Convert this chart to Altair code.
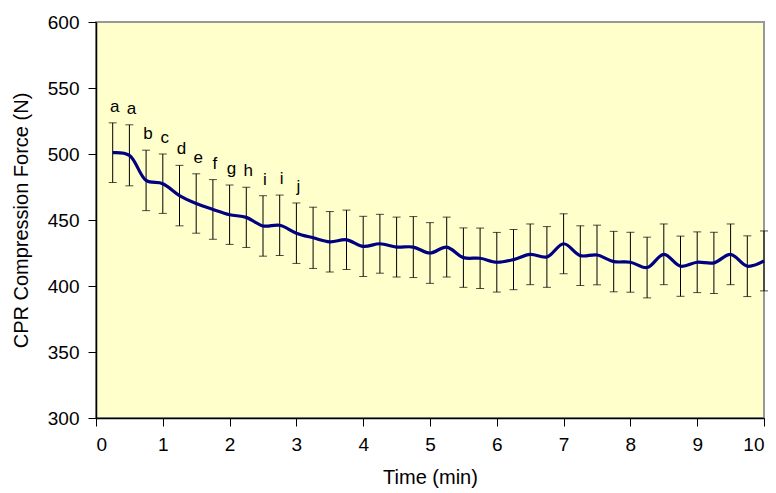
import altair as alt
import pandas as pd

times = [0.25, 0.5, 0.75, 1.0, 1.25, 1.5, 1.75, 2.0, 2.25, 2.5,
         2.75, 3.0, 3.25, 3.5, 3.75, 4.0, 4.25, 4.5, 4.75, 5.0,
         5.25, 5.5, 5.75, 6.0, 6.25, 6.5, 6.75, 7.0, 7.25, 7.5,
         7.75, 8.0, 8.25, 8.5, 8.75, 9.0, 9.25, 9.5, 9.75, 10.0]
means = [501, 499, 480, 477.5, 468.5, 462.5, 458, 454, 452, 445.5,
         446, 440, 436.5, 433.5, 435, 430, 432, 429.5, 429.5, 425,
         429.5, 421.5, 421, 418, 420, 424, 422, 432, 423, 423.5,
         418.5, 418, 414, 424, 415, 418, 417.5, 424, 415, 419]
errs = [22.6, 23.1, 22.9, 22.5, 22.9, 22.5, 22.6, 22.5, 22.8, 22.9,
        22.9, 22.9, 23.2, 22.9, 22.5, 22.8, 22.3, 22.7, 23.1, 23.0,
        22.7, 22.5, 22.9, 22.6, 22.8, 23.0, 23.0, 22.7, 22.6, 22.6,
        22.9, 22.7, 23.0, 23.0, 22.8, 23.0, 23.2, 23.0, 23.0, 22.7]
letters = ["a", "a", "b", "c", "d", "e", "f", "g", "h", "i", "i", "j"] + [""] * 28

df = pd.DataFrame({"t": times, "mean": means, "err": errs, "letter": letters})
df["lo"] = df["mean"] - df["err"]
df["hi"] = df["mean"] + df["err"]

FONT = "Liberation Sans"

x = alt.X("t:Q", scale=alt.Scale(domain=[0, 10], nice=False),
          axis=alt.Axis(title="Time (min)", values=list(range(0, 11)), format="d"))
y = alt.Y("mean:Q", scale=alt.Scale(domain=[300, 600], nice=False, zero=False),
          axis=alt.Axis(title="CPR Compression Force (N)", values=list(range(300, 601, 50))))

base = alt.Chart(df)

rules = base.mark_rule(color="#000000", strokeWidth=1).encode(
    x=x, y=alt.Y("lo:Q"), y2="hi:Q")
caps_hi = base.mark_tick(color="#000000", thickness=1, size=8, orient="horizontal").encode(
    x="t:Q", y="hi:Q")
caps_lo = base.mark_tick(color="#000000", thickness=1, size=8, orient="horizontal").encode(
    x="t:Q", y="lo:Q")
line = base.mark_line(color="#000080", strokeWidth=3.2, interpolate="catmull-rom").encode(
    x="t:Q", y=y)
labels = base.mark_text(font=FONT, fontSize=17, color="#000000", baseline="alphabetic",
                        dy=-11, dx=2).encode(x="t:Q", y="hi:Q", text="letter:N")

chart = alt.layer(rules, caps_hi, caps_lo, line, labels).properties(
    width=668, height=396,
    autosize=alt.AutoSizeParams(type="none"),
    padding={"left": 88, "top": 14, "right": 4, "bottom": 75},
    background="#FFFFFF",
).configure_view(
    fill="#FFFFCC", stroke="#999999", strokeWidth=2
).configure_axis(
    grid=False, domainColor="#000000", domainWidth=1.5, tickColor="#000000",
    tickSize=8, labelFont=FONT, labelFontSize=19, labelColor="#000000",
    titleFont=FONT, titleFontSize=20, titleFontWeight="normal", titleColor="#000000",
    labelPadding=9
).configure_axisY(
    titlePadding=16
).configure_axisX(
    titlePadding=13
)

chart.save("out.html", embed_options={"renderer": "svg", "actions": False})
